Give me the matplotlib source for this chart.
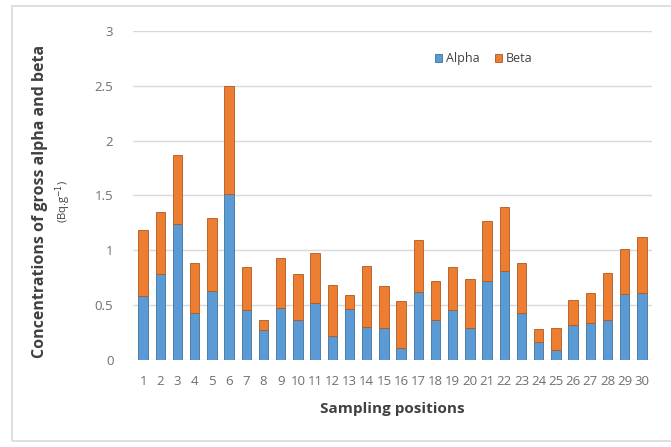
import matplotlib.pyplot as plt
from matplotlib.patches import Rectangle
import numpy as np

plt.rcParams['font.family'] = ['Open Sans', 'DejaVu Sans']

# Data
positions = list(range(1, 31))
alpha = [0.58, 0.78, 1.24, 0.43, 0.63, 1.51, 0.45, 0.27, 0.47, 0.36,
         0.52, 0.22, 0.46, 0.30, 0.29, 0.11, 0.62, 0.36, 0.45, 0.29,
         0.72, 0.81, 0.43, 0.16, 0.09, 0.32, 0.34, 0.36, 0.60, 0.61]
total = [1.18, 1.35, 1.87, 0.88, 1.29, 2.50, 0.85, 0.36, 0.93, 0.78,
         0.97, 0.68, 0.59, 0.86, 0.67, 0.54, 1.09, 0.72, 0.85, 0.74,
         1.27, 1.39, 0.88, 0.28, 0.29, 0.55, 0.61, 0.79, 1.01, 1.12]
beta = [t - a for t, a in zip(total, alpha)]
y_ticks = [0, 0.5, 1, 1.5, 2, 2.5, 3]

blue = '#5B9BD5'
orange = '#ED7D31'

fig = plt.figure(figsize=(6.71, 4.47), dpi=100)
ax = fig.add_axes([0.198, 0.195, 0.774, 0.736])

# outer light frame like the original picture
fig.patches.append(Rectangle((12 / 671, 6 / 447), 1.0, 435 / 447, transform=fig.transFigure,
                             fill=False, edgecolor='#d9d9d9', linewidth=1.2, zorder=0))

w = 0.55
ax.bar(positions, alpha, width=w, color=blue, edgecolor='#41719c', linewidth=0.6,
       label='Alpha', zorder=3)
ax.bar(positions, beta, width=w, bottom=alpha, color=orange, edgecolor='#ae5a21',
       linewidth=0.6, label='Beta', zorder=3)

ax.set_xlim(0.4, 30.6)
ax.set_ylim(0, 3)
ax.set_yticks(y_ticks)
ax.set_yticklabels([f'{v:g}' for v in y_ticks])
ax.set_xticks(positions)
ax.grid(axis='y', color='#d9d9d9', linewidth=1.0, zorder=0)
for s in ax.spines.values():
    s.set_visible(False)
ax.tick_params(axis='both', length=0, labelsize=9.5, colors='#6f6f6f')
ax.tick_params(axis='y', pad=14)
ax.tick_params(axis='x', pad=11)

ax.set_xlabel('Sampling positions', fontsize=11, fontweight='bold', color='#404040', labelpad=10)
fig.text(40 / 671, 0.55, 'Concentrations of gross alpha and beta', rotation=90,
         ha='center', va='center', fontsize=11.5, fontweight='bold', color='#404040')
fig.text(63 / 671, 0.55, '(Bq.g$^{-1}$)', rotation=90, ha='center', va='center',
         fontsize=8, color='#404040')

leg = ax.legend(loc='upper left', bbox_to_anchor=(0.56, 0.97), ncol=2, frameon=False,
                fontsize=9, handlelength=0.6, handleheight=0.6, handletextpad=0.3,
                columnspacing=1.2, labelcolor='#404040')

fig.savefig('out.png', dpi=100)
